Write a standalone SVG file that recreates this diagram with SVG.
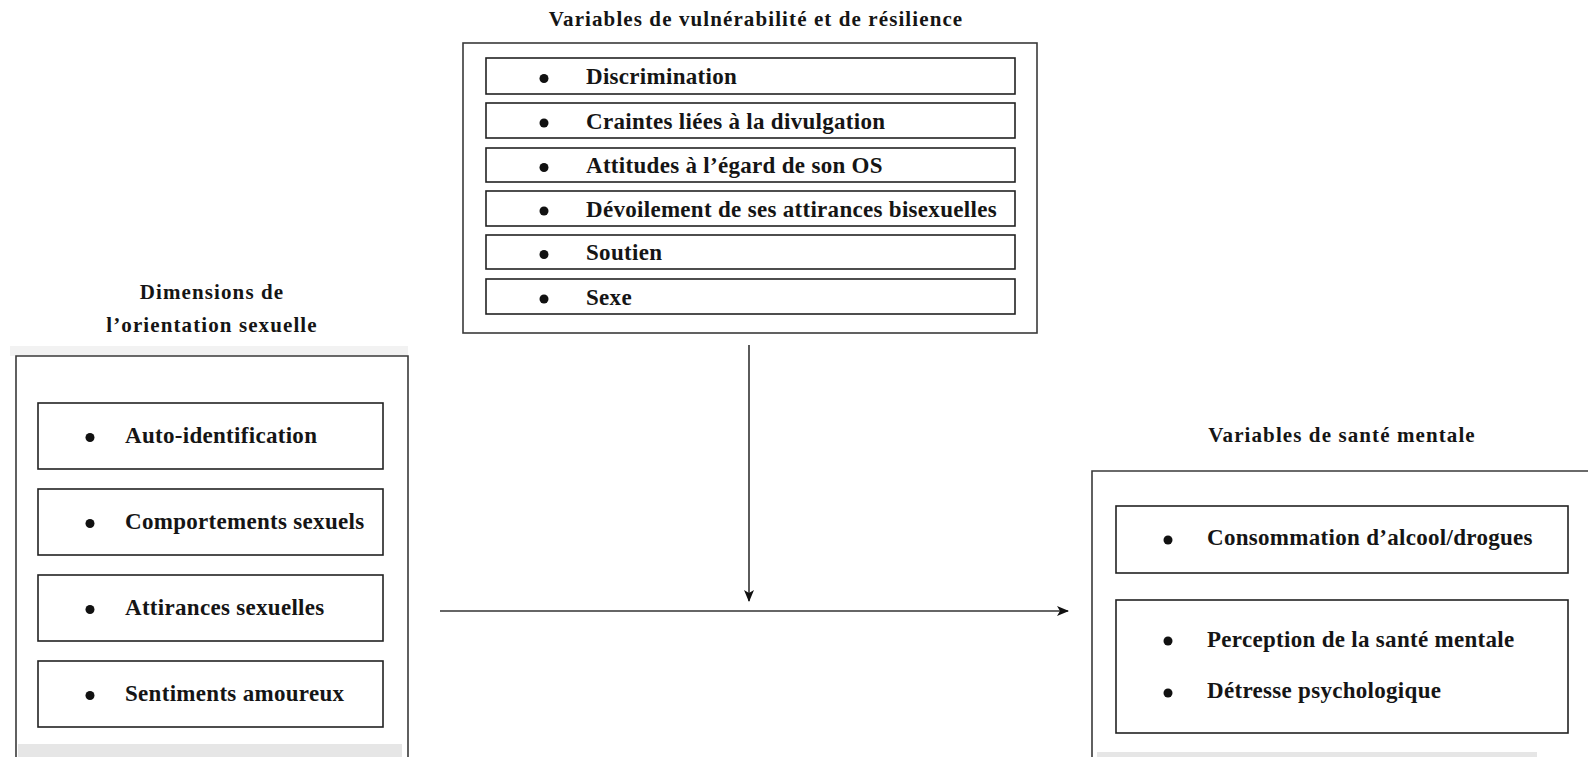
<svg xmlns="http://www.w3.org/2000/svg" width="1588" height="757" viewBox="0 0 1588 757">
  <style>
    .outer { fill: none; stroke: #3a3a3a; stroke-width: 1.6; }
    .inner { fill: none; stroke: #222; stroke-width: 1.6; }
    .title { font-family: "Liberation Serif", "Times New Roman", serif; font-weight: bold; font-size: 21px; letter-spacing: 1.1px; fill: #151515; text-anchor: middle; }
    .item { font-family: "Liberation Serif", "Times New Roman", serif; font-weight: bold; font-size: 23px; letter-spacing: 0.3px; fill: #151515; }
    .dot { fill: #111; }
    .wire { fill: none; stroke: #333; stroke-width: 1.6; }
    .shade { fill: #e6e6e6; }
  </style>
  <defs>
    <marker id="arrow" viewBox="0 0 12 10" refX="11" refY="5" markerWidth="12" markerHeight="10" markerUnits="userSpaceOnUse" orient="auto">
      <path d="M0,0 L12,5 L0,10 L3,5 z" fill="#111"/>
    </marker>
  </defs>

  <rect width="1588" height="757" fill="#ffffff"/>

  <!-- Vulnerability and resilience variables (moderators) -->
  <g id="moderateurs">
    <text class="title" x="756" y="26">Variables de vulnérabilité et de résilience</text>
    <rect class="outer" x="463" y="43" width="574" height="290"/>
    <rect class="inner" x="486" y="58" width="529" height="36"/>
    <rect class="inner" x="486" y="103" width="529" height="35"/>
    <rect class="inner" x="486" y="148" width="529" height="34"/>
    <rect class="inner" x="486" y="191" width="529" height="35"/>
    <rect class="inner" x="486" y="235" width="529" height="34"/>
    <rect class="inner" x="486" y="279" width="529" height="35"/>
    <circle class="dot" cx="544" cy="78.5" r="4.5"/>
    <circle class="dot" cx="544" cy="123" r="4.5"/>
    <circle class="dot" cx="544" cy="167.5" r="4.5"/>
    <circle class="dot" cx="544" cy="211" r="4.5"/>
    <circle class="dot" cx="544" cy="254.5" r="4.5"/>
    <circle class="dot" cx="544" cy="299" r="4.5"/>
    <text class="item" x="586" y="84">Discrimination</text>
    <text class="item" x="586" y="128.5">Craintes liées à la divulgation</text>
    <text class="item" x="586" y="173">Attitudes à l’égard de son OS</text>
    <text class="item" x="586" y="216.5">Dévoilement de ses attirances bisexuelles</text>
    <text class="item" x="586" y="260">Soutien</text>
    <text class="item" x="586" y="304.5">Sexe</text>
  </g>

  <!-- Dimensions of sexual orientation (predictors) -->
  <g id="dimensions">
    <text class="title" x="212" y="299">Dimensions de</text>
    <text class="title" x="212" y="332">l’orientation sexuelle</text>
    <rect x="10" y="346" width="398" height="10" fill="#f2f2f2"/>
    <path class="outer" d="M16,757 V356 H408 V757"/>
    <rect class="inner" x="38" y="403" width="345" height="66"/>
    <rect class="inner" x="38" y="489" width="345" height="66"/>
    <rect class="inner" x="38" y="575" width="345" height="66"/>
    <rect class="inner" x="38" y="661" width="345" height="66"/>
    <circle class="dot" cx="90" cy="437.5" r="4.5"/>
    <circle class="dot" cx="90" cy="523.5" r="4.5"/>
    <circle class="dot" cx="90" cy="609.5" r="4.5"/>
    <circle class="dot" cx="90" cy="695.5" r="4.5"/>
    <text class="item" x="125" y="443">Auto-identification</text>
    <text class="item" x="125" y="529">Comportements sexuels</text>
    <text class="item" x="125" y="615">Attirances sexuelles</text>
    <text class="item" x="125" y="701">Sentiments amoureux</text>
    <rect class="shade" x="18" y="744" width="384" height="13"/>
  </g>

  <!-- Mental health variables (outcomes) -->
  <g id="sante-mentale">
    <text class="title" x="1342" y="442">Variables de santé mentale</text>
    <path class="outer" d="M1092,757 V471 H1588"/>
    <rect class="inner" x="1116" y="506" width="452" height="67"/>
    <rect class="inner" x="1116" y="600" width="452" height="133"/>
    <circle class="dot" cx="1168" cy="540" r="4.5"/>
    <circle class="dot" cx="1168" cy="641" r="4.5"/>
    <circle class="dot" cx="1168" cy="693" r="4.5"/>
    <text class="item" x="1207" y="545">Consommation d’alcool/drogues</text>
    <text class="item" x="1207" y="647">Perception de la santé mentale</text>
    <text class="item" x="1207" y="698">Détresse psychologique</text>
    <rect class="shade" x="1097" y="752" width="440" height="5"/>
  </g>

  <!-- Connectors -->
  <g id="connecteurs">
    <line class="wire" x1="749" y1="345" x2="749" y2="601" marker-end="url(#arrow)"/>
    <line class="wire" x1="440" y1="611" x2="1068" y2="611" marker-end="url(#arrow)"/>
  </g>
</svg>
